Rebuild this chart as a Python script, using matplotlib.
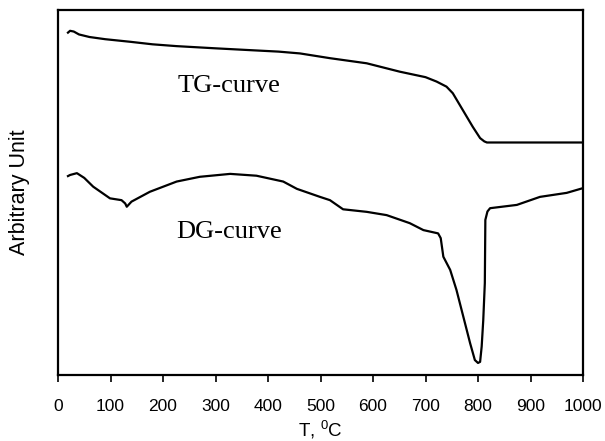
import matplotlib
matplotlib.use("Agg")
import matplotlib.pyplot as plt

# TG curve (temperature, arbitrary unit)
tg_t = [19, 23, 30, 40, 60, 90, 137, 180, 226, 300, 366, 420, 461, 518, 588, 651,
        700, 721, 740, 752, 771, 790, 804, 812, 817, 850, 900, 950, 1000]
tg_y = [93.8, 94.3, 94.1, 93.3, 92.6, 92.0, 91.3, 90.6, 90.1, 89.5, 89.0, 88.6, 88.1, 86.8, 85.4, 83.1,
        81.6, 80.4, 79.0, 77.2, 72.6, 68.0, 64.9, 64.0, 63.7, 63.7, 63.7, 63.7, 63.7]

# DG curve
dg_t = [19, 23, 36, 50, 67, 99, 121, 128, 131, 140, 175, 226, 270, 328, 378, 429, 455,
        461, 499, 518, 543, 588, 626, 670, 696, 724, 729, 734, 747, 759, 772, 785, 794,
        800, 804, 807, 810, 813, 814, 818, 823, 874, 918, 969, 1000]
dg_y = [54.5, 54.8, 55.3, 54.0, 51.6, 48.4, 47.9, 47.0, 46.1, 47.5, 50.2, 53.0, 54.3, 55.1, 54.6, 53.0, 51.0,
        50.7, 48.8, 47.9, 45.4, 44.7, 43.8, 41.6, 39.7, 38.8, 37.5, 32.4, 28.8, 23.3, 16.0, 8.7, 4.1,
        3.3, 3.6, 7.8, 15.0, 25.2, 42.5, 44.8, 45.7, 46.6, 48.8, 49.9, 51.2]

xticks = list(range(0, 1001, 100))

plt.rcParams['font.family'] = ['Liberation Sans', 'DejaVu Sans']

fig = plt.figure(figsize=(6.05, 4.41), dpi=100)
ax = fig.add_axes([58 / 605, 66 / 441, 525 / 605, 365 / 441])

ax.plot(tg_t, tg_y, color='black', lw=1.6)
ax.plot(dg_t, dg_y, color='black', lw=1.6)

ax.text(228, 77.5, 'TG-curve', family='Liberation Serif', fontsize=19)
ax.text(226, 37.5, 'DG-curve', family='Liberation Serif', fontsize=19)

ax.set_xlim(0, 1000)
ax.set_ylim(0, 100)
ax.set_xticks(xticks)
ax.set_yticks([])
ax.tick_params(axis='x', direction='out', length=5, width=1.2, labelsize=12.5, pad=12)
for s in ax.spines.values():
    s.set_linewidth(1.6)

ax.set_xlabel(r'T, $^{\mathregular{0}}$C', fontsize=13.5, labelpad=3)
ax.set_ylabel('Arbitrary Unit', fontsize=15.5, labelpad=20)

plt.savefig('out.png', dpi=100)
